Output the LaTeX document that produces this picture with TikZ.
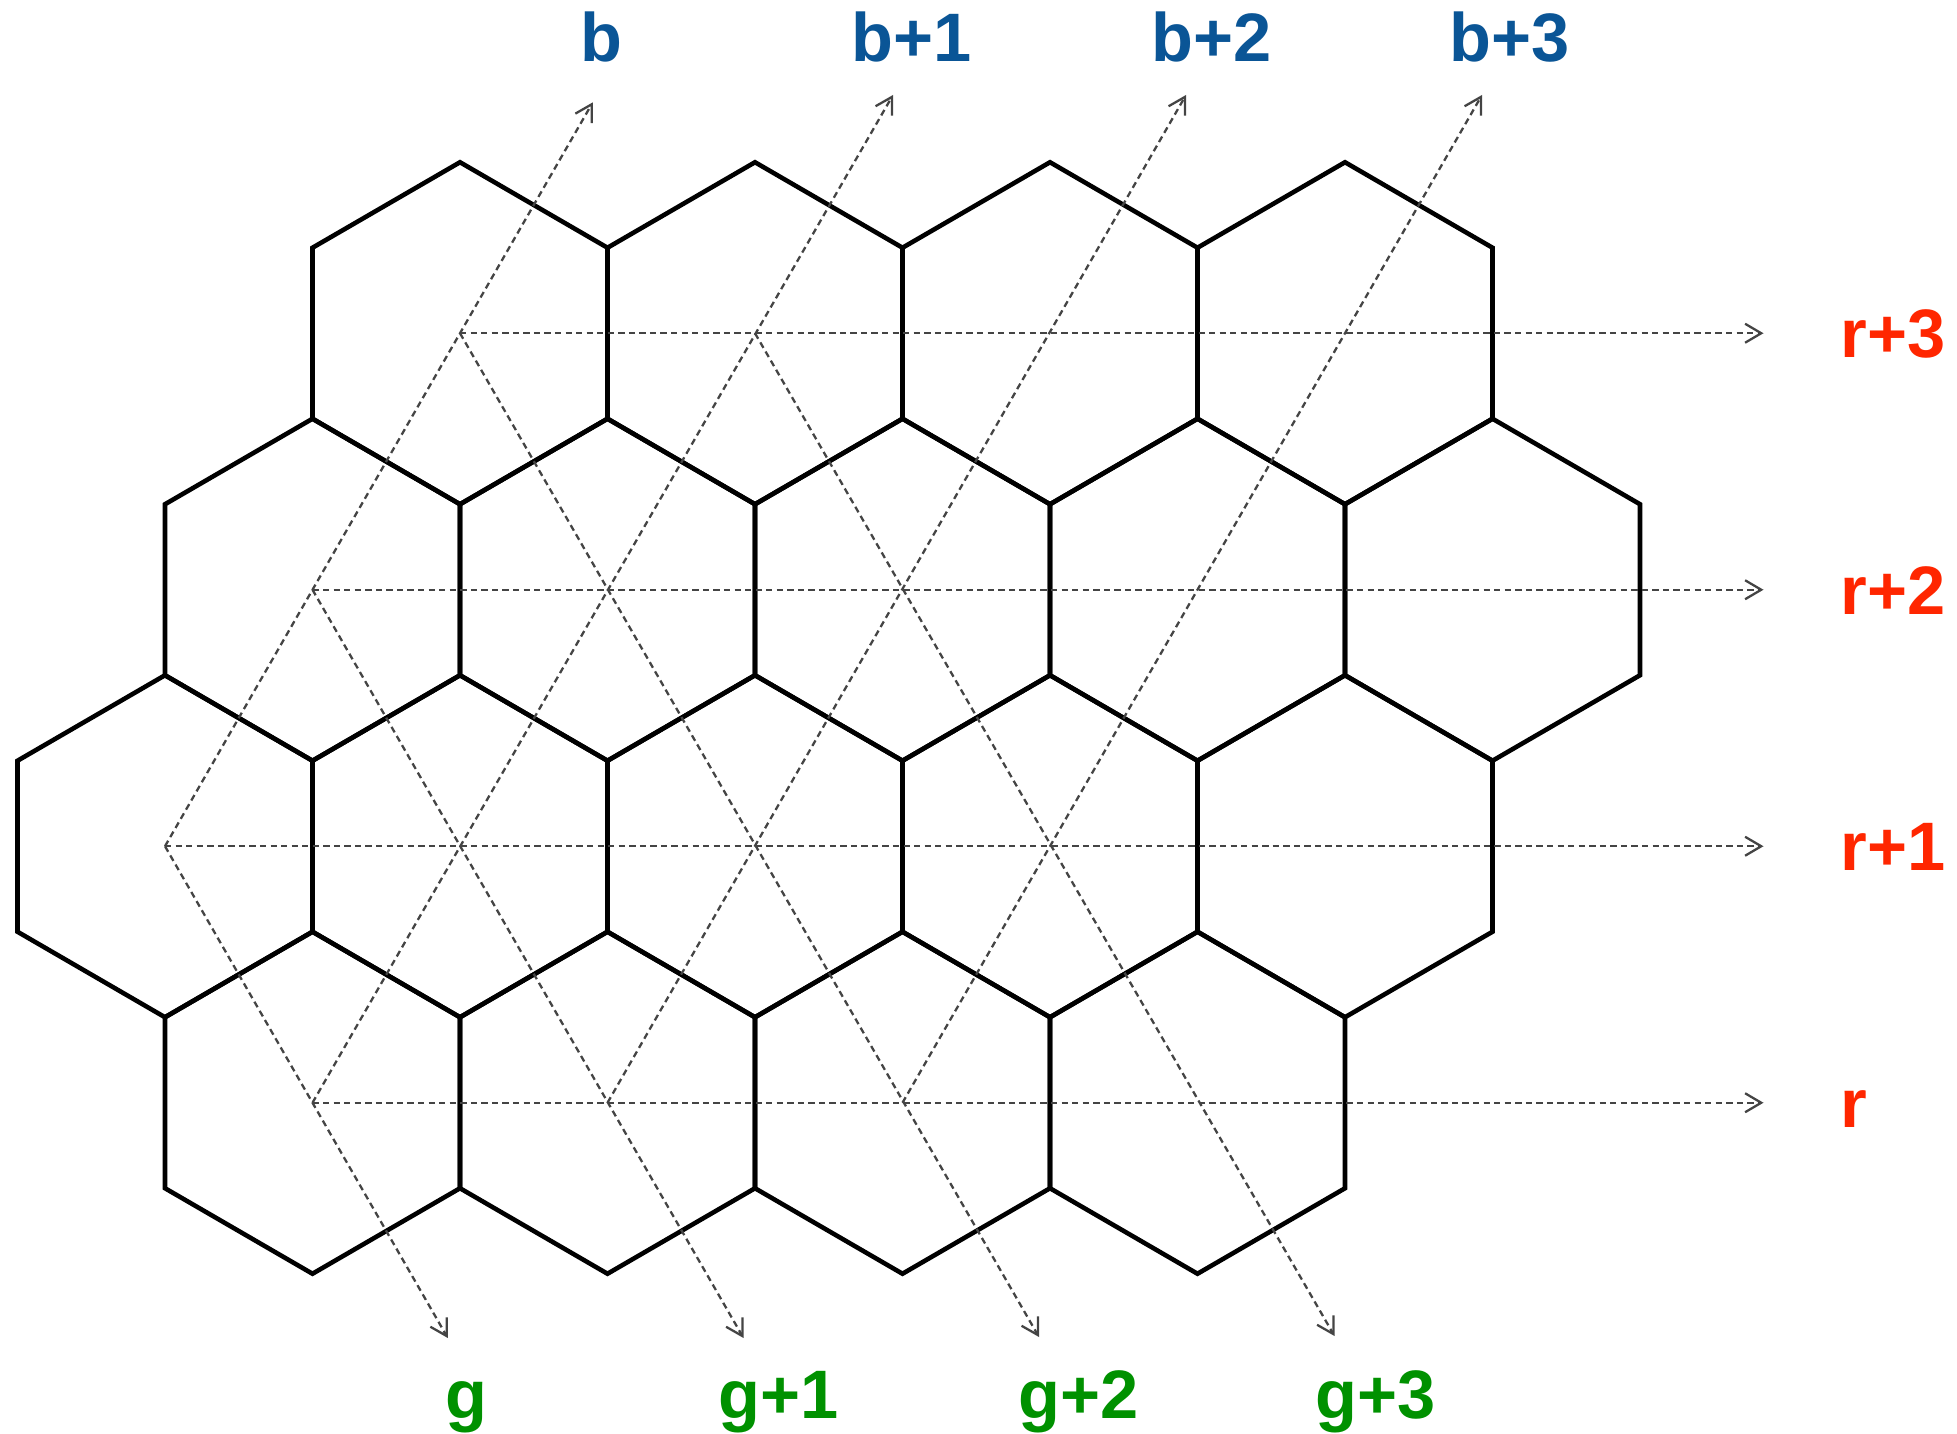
\documentclass[tikz,border=0pt]{standalone}
\usepackage{fontspec}
\setmainfont{Liberation Sans}
\usetikzlibrary{arrows.meta}
\definecolor{lblblue}{HTML}{0A5596}
\definecolor{lblred}{HTML}{FF2600}
\definecolor{lblgreen}{HTML}{009100}
\definecolor{guide}{HTML}{444444}
\begin{document}
\begin{tikzpicture}[x=0.01cm,y=-0.01cm,
  hexline/.style={line width=1.3pt, draw=black},
  guideline/.style={draw=guide, line width=0.65pt, dash pattern=on 1.8pt off 1.2pt,
    -{Straight Barb[length=4.6pt,width=5.4pt]}},
  lbl/.style={font=\fontsize{19.5}{22}\selectfont\bfseries, inner sep=0pt},
  hexcell/.pic={\draw[hexline] (0,-171) -- (147.5,-85.5) -- (147.5,85.5) -- (0,171)
      -- (-147.5,85.5) -- (-147.5,-85.5) -- cycle;}
]
\useasboundingbox (0,0) rectangle (1957,1434);

% hexagon centres
\foreach \k in {0,...,3} \coordinate (c1\k) at (460+295*\k, 333.25);
\foreach \k in {0,...,4} \coordinate (c2\k) at (312.5+295*\k, 589.75);
\foreach \k in {0,...,4} \coordinate (c3\k) at (165+295*\k, 846.25);
\foreach \k in {0,...,3} \coordinate (c4\k) at (312.5+295*\k, 1102.75);

% hexagons
\foreach \c in {c10,c11,c12,c13,c20,c21,c22,c23,c24,c30,c31,c32,c33,c34,c40,c41,c42,c43}
  \pic at (\c) {hexcell};

% arrow tips
\coordinate (tr3) at (1763.5, 333.25);
\coordinate (tr2) at (1763.5, 589.75);
\coordinate (tr1) at (1763.5, 846.25);
\coordinate (tr0) at (1763.5, 1102.75);
\coordinate (tb0) at (592.75, 102.4);
\coordinate (tb1) at (893, 95);
\coordinate (tb2) at (1186, 95);
\coordinate (tb3) at (1482, 95);
\coordinate (tg0) at (447.8, 1338);
\coordinate (tg1) at (743.5, 1338);
\coordinate (tg2) at (1039, 1337);
\coordinate (tg3) at (1334.5, 1336);

% red rows
\draw[guideline] (c10) -- (tr3);
\draw[guideline] (c20) -- (tr2);
\draw[guideline] (c30) -- (tr1);
\draw[guideline] (c40) -- (tr0);
% blue diagonals
\draw[guideline] (c30) -- (tb0);
\draw[guideline] (c40) -- (tb1);
\draw[guideline] (c41) -- (tb2);
\draw[guideline] (c42) -- (tb3);
% green diagonals
\draw[guideline] (c30) -- (tg0);
\draw[guideline] (c20) -- (tg1);
\draw[guideline] (c10) -- (tg2);
\draw[guideline] (c11) -- (tg3);

% labels
\node[lbl, text=lblblue, anchor=base] (lb0) at (601,62) {b};
\node[lbl, text=lblblue, anchor=base] (lb1) at (912,62) {b+1};
\node[lbl, text=lblblue, anchor=base] (lb2) at (1212,62) {b+2};
\node[lbl, text=lblblue, anchor=base] (lb3) at (1510,62) {b+3};

\node[lbl, text=lblred, anchor=base west] (lr3) at (1840,357.75) {r+3};
\node[lbl, text=lblred, anchor=base west] (lr2) at (1840,614.25) {r+2};
\node[lbl, text=lblred, anchor=base west] (lr1) at (1840,870.75) {r+1};
\node[lbl, text=lblred, anchor=base west] (lr0) at (1840,1127.25) {r};

\node[lbl, text=lblgreen, anchor=base] (lg0) at (466,1418) {g};
\node[lbl, text=lblgreen, anchor=base] (lg1) at (779,1418) {g+1};
\node[lbl, text=lblgreen, anchor=base] (lg2) at (1079,1418) {g+2};
\node[lbl, text=lblgreen, anchor=base] (lg3) at (1376,1418) {g+3};
\end{tikzpicture}
\end{document}
